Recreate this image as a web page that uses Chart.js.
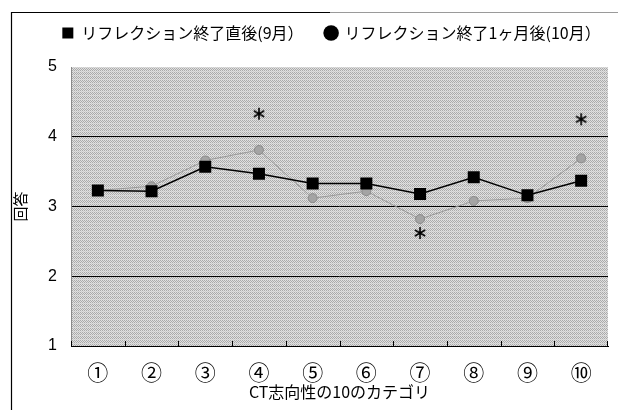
<!DOCTYPE html>
<html>
<head>
<meta charset="utf-8">
<script src="https://cdn.jsdelivr.net/npm/chart.js@4.4.0/dist/chart.umd.min.js"></script>
<style>
  html, body { margin: 0; padding: 0; background: #fff; }
  #wrap { width: 618px; height: 410px; }
</style>
</head>
<body>
<div id="wrap"><canvas id="myChart" width="618" height="410"></canvas></div>
<script>
var categories = ["①","②","③","④","⑤","⑥","⑦","⑧","⑨","⑩"];
var afterSep = [3.23, 3.22, 3.57, 3.47, 3.33, 3.33, 3.18, 3.42, 3.16, 3.37];
var afterOct = [3.23, 3.29, 3.66, 3.81, 3.12, 3.22, 2.82, 3.08, 3.12, 3.69];
var starMarks = [null, null, null, 4.33, null, null, 2.62, null, null, 4.25];
var yTicks = [1, 2, 3, 4, 5];
var seriesNames = ["リフレクション終了直後(9月）", "リフレクション終了1ヶ月後(10月）"];

var JP = "'Noto Sans CJK JP', 'Noto Sans', sans-serif";

// dotted gray fill like the scanned print
function makePattern() {
	var c = document.createElement("canvas");
	c.width = 4; c.height = 4;
	var g = c.getContext("2d");
	for (var y = 0; y < 4; y++) {
		for (var x = 0; x < 4; x++) {
			g.fillStyle = ((x + y) % 2 == 0) ? "#aaaaaa" : "#e0e0e0";
			if (y == 3 && x % 2 == 1) g.fillStyle = "#cccccc";
			g.fillRect(x, y, 1, 1);
		}
	}
	return c;
}

function makeAsterisk() {
	var c = document.createElement("canvas");
	c.width = 14; c.height = 14;
	var g = c.getContext("2d");
	g.strokeStyle = "#000";
	g.lineWidth = 1.6;
	g.beginPath();
	for (var i = 0; i < 3; i++) {
		var a = Math.PI / 2 + i * Math.PI / 3;
		g.moveTo(7 + Math.cos(a) * 6, 7 - Math.sin(a) * 6);
		g.lineTo(7 - Math.cos(a) * 6, 7 + Math.sin(a) * 6);
	}
	g.stroke();
	return c;
}

// extra room under the legend, and nudge it right like the original
var legendGap = {
	id: "legendGap",
	beforeInit: function(chart) {
		var fit = chart.legend.fit;
		chart.legend.fit = function() {
			fit.bind(chart.legend)();
			this.height += 16;
		};
		var draw = chart.legend.draw;
		chart.legend.draw = function() {
			chart.ctx.save();
			chart.ctx.translate(22, 0);
			draw.apply(chart.legend, arguments);
			chart.ctx.restore();
		};
	}
};

var plotBg = {
	id: "plotBg",
	beforeDraw: function(chart) {
		var ctx = chart.ctx, a = chart.chartArea;
		ctx.save();
		ctx.fillStyle = ctx.createPattern(makePattern(), "repeat");
		ctx.fillRect(a.left, a.top, a.right - a.left, a.bottom - a.top);
		ctx.restore();
	},
	afterDraw: function(chart) {
		var ctx = chart.ctx, a = chart.chartArea, xs = chart.scales.x;
		var step = xs.getPixelForTick(1) - xs.getPixelForTick(0);
		ctx.save();
		// plot left edge
		ctx.strokeStyle = "#8a8a8a";
		ctx.lineWidth = 1;
		ctx.beginPath();
		ctx.moveTo(a.left + 0.5, a.top); ctx.lineTo(a.left + 0.5, a.bottom);
		ctx.stroke();
		// category ticks pointing into the plot
		ctx.strokeStyle = "#000";
		ctx.beginPath();
		for (var i = 0; i <= categories.length; i++) {
			var px = Math.round(xs.getPixelForTick(0) - step / 2 + i * step) + 0.5;
			if (i == categories.length) px = a.right - 0.5;
			ctx.moveTo(px, a.bottom); ctx.lineTo(px, a.bottom - 5);
		}
		ctx.stroke();
		// outer frame of the figure
		ctx.lineWidth = 1.2;
		ctx.beginPath();
		ctx.moveTo(11.5, 410); ctx.lineTo(11.5, 12.5); ctx.lineTo(330, 12.5);
		ctx.stroke();
		ctx.strokeStyle = "#9a9a9a";
		ctx.beginPath();
		ctx.moveTo(330, 12.5); ctx.lineTo(618, 12.5);
		ctx.stroke();
		ctx.restore();
	}
};

var myChart = new Chart("myChart", {
	type: "line",
	data: {
		labels: categories,
		datasets: [{
			label: seriesNames[0],
			data: afterSep,
			borderColor: "#000",
			backgroundColor: "#000",
			borderWidth: 1.5,
			pointStyle: "rect",
			pointRadius: 8.5,
			pointBorderWidth: 0,
			tension: 0,
			order: 0
		}, {
			label: seriesNames[1],
			data: afterOct,
			borderColor: "#999999",
			backgroundColor: "#a4a4a4",
			pointBorderColor: "#8a8a8a",
			borderWidth: 1,
			pointStyle: "circle",
			pointRadius: 4.5,
			pointBorderWidth: 1,
			tension: 0,
			order: 1
		}, {
			label: "*",
			data: starMarks,
			showLine: false,
			pointStyle: makeAsterisk(),
			pointRadius: 7,
			order: 2
		}]
	},
	options: {
		responsive: false,
		animation: false,
		devicePixelRatio: 1,
		layout: { padding: { left: 11, right: 10, top: 3, bottom: 0 } },
		plugins: {
			tooltip: { enabled: false },
			legend: {
				position: "top",
				labels: {
					color: "#000",
					font: { family: JP, size: 16 },
					usePointStyle: true,
					boxWidth: 11,
					boxHeight: 11,
					padding: 22,
					generateLabels: function(chart) {
						return [
							{ text: seriesNames[0], pointStyle: "rect", fillStyle: "#000", strokeStyle: "#000", lineWidth: 0, datasetIndex: 0 },
							{ text: seriesNames[1], pointStyle: "circle", fillStyle: "#000", strokeStyle: "#000", lineWidth: 0, datasetIndex: 1 }
						];
					}
				}
			}
		},
		scales: {
			x: {
				offset: true,
				border: { display: true, color: "#000", width: 1 },
				grid: { display: false },
				ticks: { color: "#000", font: { family: JP, size: 21 }, padding: 5, maxRotation: 0 },
				title: { display: true, text: "CT志向性の10のカテゴリ", color: "#000", font: { family: JP, size: 16 }, padding: { top: 0, bottom: 8 } },
				afterFit: function(s) { s.height = 64; }
			},
			y: {
				min: 1,
				max: 5,
				border: { display: false },
				afterBuildTicks: function(s) { s.ticks = yTicks.map(function(v) { return { value: v }; }); },
				grid: {
					drawTicks: false,
					color: function(c) { return (c.tick && c.tick.value == 5) ? "rgba(0,0,0,0)" : "#000"; },
					lineWidth: 1
				},
				ticks: { color: "#000", font: { family: "'Liberation Sans', Arial, sans-serif", size: 16 }, padding: 14 },
				title: { display: true, text: "回答", color: "#000", font: { family: JP, size: 15 }, padding: { top: 0, bottom: 4 } },
				afterFit: function(s) { s.width = 60; }
			}
		}
	},
	plugins: [legendGap, plotBg]
});
</script>
</body>
</html>
